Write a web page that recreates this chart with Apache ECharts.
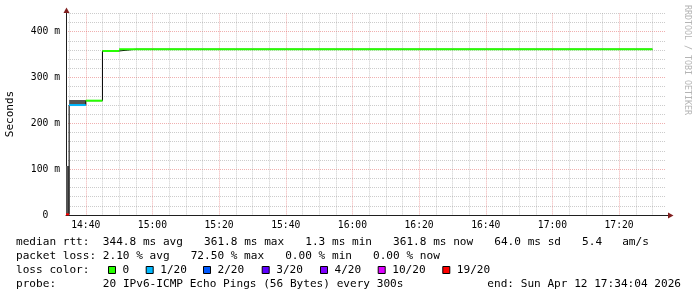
<!DOCTYPE html>
<html><head><meta charset="utf-8">
<script src="https://cdn.jsdelivr.net/npm/echarts@6.0.0/dist/echarts.min.js"></script>
<style>html,body{margin:0;padding:0;background:#fff}#c{width:697px;height:297px}</style>
</head><body><div id="c"></div>
<script>
// ---- data ----
const startTime = "14:34:04";
const endTime = "17:34:04";
const binEnds = ["14:35","14:40","14:45","14:50","14:55","15:00","15:05","15:10","15:15","15:20","15:25","15:30","15:35","15:40","15:45","15:50","15:55","16:00","16:05","16:10","16:15","16:20","16:25","16:30","16:35","16:40","16:45","16:50","16:55","17:00","17:05","17:10","17:15","17:20","17:25","17:30"];
const medianMs = [1.3,240,249.5,358,361.8,361.8,361.8,361.8,361.8,361.8,361.8,361.8,361.8,361.8,361.8,361.8,361.8,361.8,361.8,361.8,361.8,361.8,361.8,361.8,361.8,361.8,361.8,361.8,361.8,361.8,361.8,361.8,361.8,361.8,361.8,361.8];
const lossOf20 = [19,1,0,0,0,0,0,0,0,0,0,0,0,0,0,0,0,0,0,0,0,0,0,0,0,0,0,0,0,0,0,0,0,0,0,0];
const smokeBins = ["14:35","14:40"];
const smokeLowMs = [0,240];
const smokeHighMs = [107,251];
const gridTimes = ["14:35","14:40","14:45","14:50","14:55","15:00","15:05","15:10","15:15","15:20","15:25","15:30","15:35","15:40","15:45","15:50","15:55","16:00","16:05","16:10","16:15","16:20","16:25","16:30","16:35","16:40","16:45","16:50","16:55","17:00","17:05","17:10","17:15","17:20","17:25","17:30"];
const labelTimes = ["14:40","15:00","15:20","15:40","16:00","16:20","16:40","17:00","17:20"];
const yLabelValues = [0,100,200,300,400];
const lossLevels = [0,1,2,3,4,10,19];
const lossLabels = ["0","1/20","2/20","3/20","4/20","10/20","19/20"];
const lossColors = ["#26ff00","#00b8ff","#0059ff","#5e00ff","#7e00ff","#dd00ff","#ff0000"];
const legendLine1 = ["median rtt:  344.8 ms avg","361.8 ms max","1.3 ms min","361.8 ms now","64.0 ms sd","5.4   am/s"];
const legendLine2 = ["packet loss: 2.10 % avg","72.50 % max","0.00 % min","0.00 % now"];
const legendLoss = "loss color:";
const probeLabel = "probe:";
const probeText = "20 IPv6-ICMP Echo Pings (56 Bytes) every 300s";
const endText = "end: Sun Apr 12 17:34:04 2026";
const yTitle = "Seconds";
const watermark = "RRDTOOL / TOBI OETIKER";

// ---- helpers ----
const toMin = s => { const p = s.split(':').map(Number); return p[0]*60 + p[1] + (p[2]||0)/60; };
const pad = n => String(n).padStart(2,'0');
const fmtMin = v => { const m = Math.round(v); return pad(Math.floor(m/60)) + ':' + pad(m%60); };
const xMin = toMin(startTime), xMax = toMin(endTime);
const STEP = 5;
const colorFor = loss => { let c = lossColors[0]; lossLevels.forEach((l,i)=>{ if (loss >= l) c = lossColors[i]; }); return c; };

const MONO = '"DejaVu Sans Mono", "Liberation Mono", monospace';
const MAJ = 'rgba(222,79,79,0.45)';
const MIN = 'rgba(143,143,143,0.45)';
const AXIS = '#1f1f1f';
const ARROW = '#801f1f';

const smokeData = smokeBins.map((b,i)=>[Math.max(toMin(b)-STEP,xMin), toMin(b), smokeLowMs[i], smokeHighMs[i]]);
const medData = binEnds.map((b,i)=>[Math.max(toMin(b)-STEP,xMin), toMin(b), medianMs[i], lossOf20[i]]);
const lineData = [[xMin, medianMs[0]]].concat(binEnds.map((b,i)=>[toMin(b), medianMs[i]]));

// ---- legend graphics ----
const FS = 11.1, CW = FS*0.602, GLUE = 21;
const g = [];
function txt(t, x, y, extra) {
  g.push(Object.assign({type:'text', x:x, y:y, silent:true, style:{text:t, fill:'#000', font: FS+'px '+MONO, align:'left', verticalAlign:'middle'}}, extra||{}));
}
let x = 16;
legendLine1.forEach(t => { txt(t, x, 242); x += t.length*CW + GLUE; });
x = 16;
legendLine2.forEach(t => { txt(t, x, 256); x += t.length*CW + GLUE; });
txt(legendLoss, 16, 270);
const boxX = [108,145.7,203,261.7,320,377.7,442.3];
lossLabels.forEach((l,i) => {
  g.push({type:'rect', silent:true, shape:{x:boxX[i]+0.5, y:266.5, width:7, height:7}, style:{fill:lossColors[i], stroke:'#000', lineWidth:1}});
  txt(l, boxX[i]+14.5, 270);
});
txt(probeLabel, 16, 284);
txt(probeText, 16+13*CW, 284);
g.push({type:'text', x:681, y:284, silent:true, style:{text:endText, fill:'#000', font: FS+'px '+MONO, align:'right', verticalAlign:'middle'}});
g.push({type:'text', x:10.5, y:114, rotation:Math.PI/2, silent:true, style:{text:yTitle, fill:'#000', font:'11px '+MONO, align:'center', verticalAlign:'middle'}});
g.push({type:'text', x:687, y:5, rotation:-Math.PI/2, silent:true, style:{text:watermark, fill:'#b4b4b4', font:'8.3px '+MONO, align:'left', verticalAlign:'middle'}});
// axis arrows
g.push({type:'line', silent:true, shape:{x1:665, y1:215.5, x2:669, y2:215.5}, style:{stroke:AXIS, lineWidth:1}});
g.push({type:'polygon', silent:true, shape:{points:[[668,212.5],[673.5,215.5],[668,218.5]]}, style:{fill:ARROW}});
g.push({type:'line', silent:true, shape:{x1:66.5, y1:14, x2:66.5, y2:10}, style:{stroke:AXIS, lineWidth:1}});
g.push({type:'polygon', silent:true, shape:{points:[[63.5,13],[66.5,7.5],[69.5,13]]}, style:{fill:ARROW}});

const chart = echarts.init(document.getElementById('c'), null, {renderer:'canvas', width:697, height:297});
chart.setOption({
  animation:false,
  backgroundColor:'#ffffff',
  grid:{left:66, right:31, top:13.4, bottom:82, containLabel:false, outerBoundsMode:'none'},
  xAxis:{
    type:'value', min:xMin, max:xMax,
    axisLine:{show:true, onZero:false, lineStyle:{color:AXIS, width:1}},
    axisTick:{show:false, customValues: gridTimes.map(toMin)},
    axisLabel:{customValues: labelTimes.map(toMin), formatter: v => fmtMin(v), color:'#000', fontFamily:MONO, fontSize:9.7, margin:5},
    splitLine:{show:true, lineStyle:{color:[MIN,MAJ,MIN,MIN], type:[1,1], width:1}}
  },
  yAxis:{
    type:'value', min:0, max:440, interval:20,
    axisLine:{show:true, onZero:false, lineStyle:{color:AXIS, width:1}},
    axisTick:{show:false},
    axisLabel:{formatter: v => yLabelValues.includes(v) ? (v===0 ? '0  ' : v+' m') : '', color:'#000', fontFamily:MONO, fontSize:9.7, margin:6},
    splitLine:{show:true, lineStyle:{color:[MAJ,MIN,MIN,MIN,MIN], type:[1,1], width:1}}
  },
  graphic: g,
  series:[
    {type:'custom', name:'smoke', z:2, data:smokeData, encode:{x:[0,1], y:[2,3]},
     renderItem:(params, api) => {
       const a = api.coord([api.value(0), api.value(3)]);
       const b = api.coord([api.value(1), api.value(2)]);
       return {type:'rect', shape:{x:a[0], y:a[1], width:b[0]-a[0], height:b[1]-a[1]}, style:{fill:'#555555'}};
     }},
    {type:'line', name:'median', z:3, step:'start', data:lineData, symbol:'none', lineStyle:{color:'#000', width:1}},
    {type:'custom', name:'loss', z:4, data:medData, encode:{x:[0,1], y:2},
     renderItem:(params, api) => {
       const a = api.coord([api.value(0), api.value(2)]);
       const b = api.coord([api.value(1), api.value(2)]);
       return {type:'rect', shape:{x:a[0], y:a[1]-1, width:b[0]-a[0], height:2}, style:{fill:colorFor(api.value(3))}};
     }}
  ]
});
</script></body></html>
